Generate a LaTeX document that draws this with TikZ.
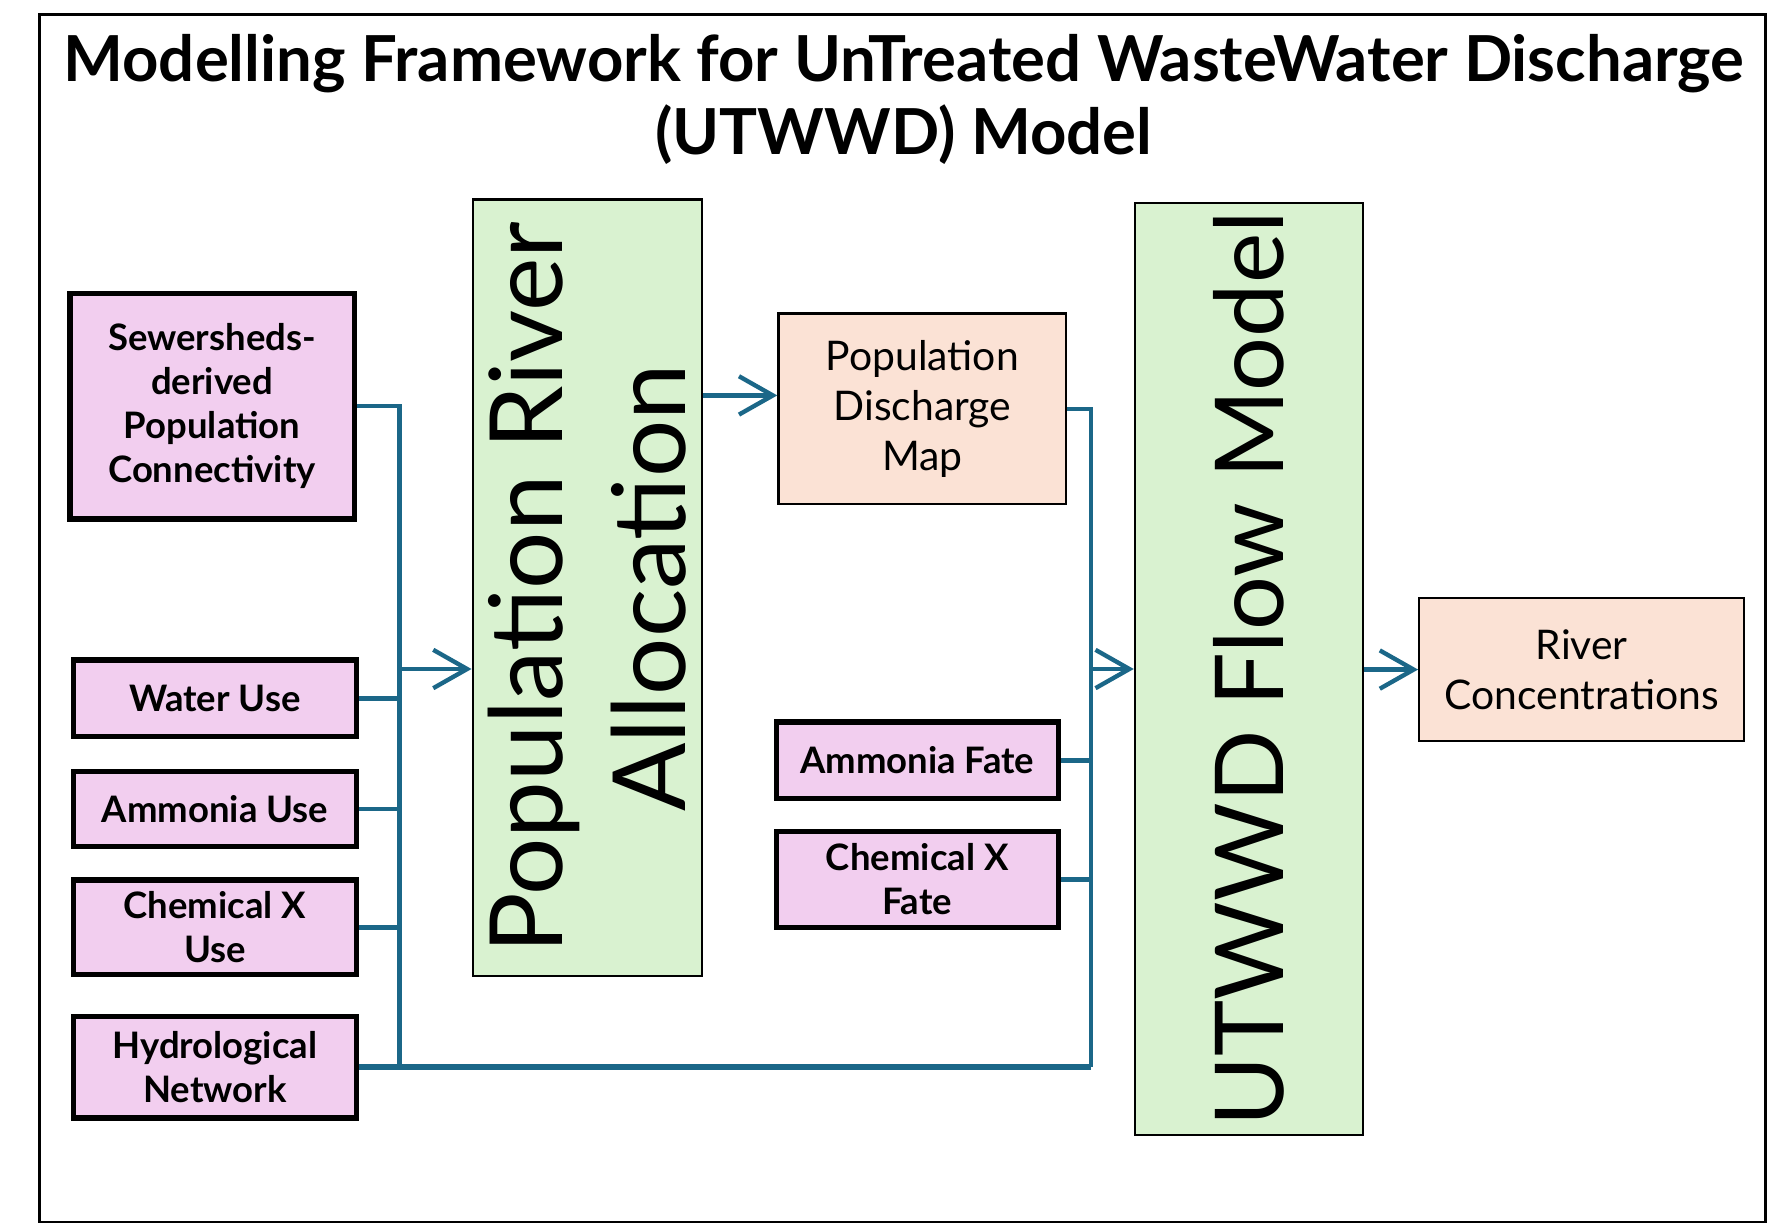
\documentclass[tikz,border=0pt]{standalone}
\usepackage{fontspec}
\setmainfont{Lato}
\usetikzlibrary{arrows.meta}
\definecolor{inputpink}{HTML}{F2CEEF}
\definecolor{modelgreen}{HTML}{D9F2D0}
\definecolor{outputpeach}{HTML}{FBE2D5}
\definecolor{linkblue}{HTML}{1B6788}
\begin{document}
\begin{tikzpicture}[x=0.1mm, y=-0.1mm,
    inputbox/.style ={rectangle, draw, line width=1.3pt, fill=inputpink, align=center,
      inner sep=0pt, font=\bfseries\fontsize{9.2}{11.1}\selectfont},
    modelbox/.style ={rectangle, draw, line width=0.6pt, fill=modelgreen, inner sep=0pt,
      font=\fontsize{25.5}{31}\selectfont},
    outputbox/.style ={rectangle, draw, line width=0.6pt, fill=outputpeach, align=center,
      inner sep=0pt, font=\fontsize{10.3}{12.5}\selectfont},
    link/.style ={draw=linkblue, line width=1.1pt},
    feed/.style ={link, -{Straight Barb[length=3mm, width=3.4mm]}}]
   \useasboundingbox (0,0) rectangle (1568,1085);
   \draw[line width=0.6pt] (35,13) rectangle (1565,1083);

   \node[align=center, font=\bfseries\fontsize{16}{18.5}\selectfont] (title) at (801,88)
     {Modelling Framework for UnTreated WasteWater Discharge\\(UTWWD) Model};

   \node[inputbox, minimum width=25.2mm, minimum height=20mm] (sewer) at (188,360)
     {Sewersheds-\\derived\\Population\\Connectivity};
   \node[inputbox, minimum width=25.1mm, minimum height=6.8mm] (water) at (190.5,619) {Water Use};
   \node[inputbox, minimum width=25.1mm, minimum height=6.6mm] (ammuse) at (190.5,717) {Ammonia Use};
   \node[inputbox, minimum width=25.1mm, minimum height=8.4mm] (chemuse) at (190.5,822) {Chemical X\\Use};
   \node[inputbox, minimum width=25.1mm, minimum height=9mm] (hydro) at (190.5,946) {Hydrological\\Network};

   \node[modelbox, minimum width=20.3mm, minimum height=68.8mm] (alloc) at (520.5,521)
     {\rotatebox{90}{\parbox{68mm}{\centering\mbox{Population River}\\Allocation}}};
   \node[outputbox, minimum width=25.5mm, minimum height=16.9mm] (dischmap) at (817.5,362.5)
     {Population\\Discharge\\Map};
   \node[inputbox, minimum width=25mm, minimum height=6.8mm] (ammfate) at (813,674) {Ammonia Fate};
   \node[inputbox, minimum width=25mm, minimum height=8.5mm] (chemfate) at (813,779.5) {Chemical X\\Fate};

   \node[modelbox, minimum width=20.2mm, minimum height=82.6mm, font=\fontsize{24}{30}\selectfont] (flow) at (1107,593)
     {\rotatebox{90}{UTWWD Flow Model}};
   \node[outputbox, minimum width=28.8mm, minimum height=12.7mm] (river) at (1402,593.5)
     {River\\Concentrations};

   \coordinate (lbus) at (354,593);
   \coordinate (lend) at (354,946);
   \coordinate (rbus) at (967,593);
   \coordinate (rend) at (967,946);
   \coordinate (mapin) at ([yshift=1.2mm]dischmap.west);

   \draw[link] (sewer.east) -| (lend);
   \draw[link] (water.east) -- (water.east -| lbus);
   \draw[link] (ammuse.east) -- (ammuse.east -| lbus);
   \draw[link] (chemuse.east) -- (chemuse.east -| lbus);
   \draw[link, line width=1.6pt] (hydro.east) -- (rend);
   \draw[link] (dischmap.east) -| (rend);
   \draw[link] (ammfate.east) -- (ammfate.east -| rbus);
   \draw[link] (chemfate.east) -- (chemfate.east -| rbus);

   \draw[feed] (lbus) -- (alloc.west |- lbus);
   \draw[feed] (alloc.east |- mapin) -- (mapin);
   \draw[feed] (rbus) -- (flow.west |- rbus);
   \draw[feed] (flow.east |- river.west) -- (river.west);
 \end{tikzpicture}
\end{document}
